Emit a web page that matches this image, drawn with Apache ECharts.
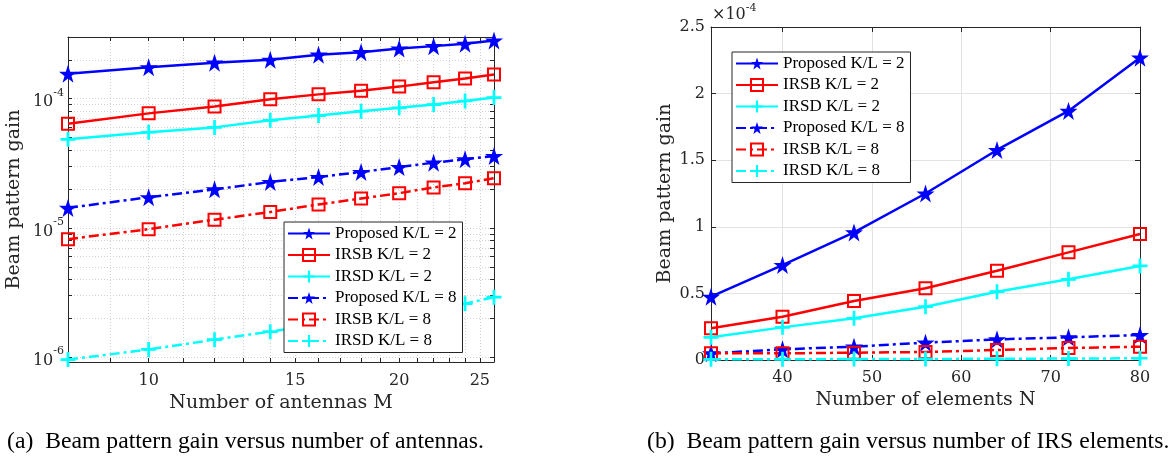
<!DOCTYPE html>
<html><head><meta charset="utf-8">
<script src="https://cdn.jsdelivr.net/npm/echarts@6/dist/echarts.min.js"></script>
<style>html,body{margin:0;padding:0;background:#fff}#c{width:1172px;height:462px}</style>
</head><body><div id="c"></div>
<script>
// ---------- data: (a) gain vs number of antennas M ----------
const antennasM      = [8, 10, 12, 14, 16, 18, 20, 22, 24, 26];
const proposedKL2_M  = [1.56e-4, 1.75e-4, 1.90e-4, 2.00e-4, 2.19e-4, 2.29e-4, 2.44e-4, 2.55e-4, 2.66e-4, 2.82e-4];
const irsbKL2_M      = [6.4e-5, 7.7e-5, 8.7e-5, 9.9e-5, 1.08e-4, 1.15e-4, 1.24e-4, 1.34e-4, 1.43e-4, 1.54e-4];
const irsdKL2_M      = [4.85e-5, 5.5e-5, 6.0e-5, 6.8e-5, 7.4e-5, 8.0e-5, 8.5e-5, 9.0e-5, 9.6e-5, 1.02e-4];
const proposedKL8_M  = [1.43e-5, 1.73e-5, 1.99e-5, 2.27e-5, 2.48e-5, 2.71e-5, 2.96e-5, 3.2e-5, 3.4e-5, 3.6e-5];
const irsbKL8_M      = [8.2e-6, 9.8e-6, 1.16e-5, 1.33e-5, 1.52e-5, 1.69e-5, 1.86e-5, 2.06e-5, 2.22e-5, 2.43e-5];
const irsdKL8_M      = [9.6e-7, 1.15e-6, 1.37e-6, 1.58e-6, 1.8e-6, 2.0e-6, 2.2e-6, 2.4e-6, 2.6e-6, 2.92e-6];
const xTickLabelsM   = [10, 15, 20, 25];
const yTickLabelsM   = [1e-6, 1e-5, 1e-4];

// ---------- data: (b) gain vs number of IRS elements N ----------
const elementsN      = [32, 40, 48, 56, 64, 72, 80];
const proposedKL2_N  = [4.75e-5, 7.13e-5, 9.58e-5, 1.25e-4, 1.577e-4, 1.87e-4, 2.27e-4];
const irsbKL2_N      = [2.38e-5, 3.25e-5, 4.43e-5, 5.38e-5, 6.7e-5, 8.08e-5, 9.46e-5];
const irsdKL2_N      = [1.7e-5, 2.45e-5, 3.13e-5, 4.0e-5, 5.13e-5, 6.06e-5, 7.06e-5];
const proposedKL8_N  = [5.0e-6, 8.0e-6, 1.0e-5, 1.3e-5, 1.55e-5, 1.7e-5, 1.88e-5];
const irsbKL8_N      = [5.0e-6, 5.0e-6, 5.5e-6, 6.0e-6, 7.5e-6, 9.0e-6, 1.0e-5];
const irsdKL8_N      = [5e-7, 6e-7, 7e-7, 8e-7, 9e-7, 1.1e-6, 1.3e-6];
const xTickLabelsN   = [40, 50, 60, 70, 80];

const seriesNames = ['Proposed K/L = 2', 'IRSB K/L = 2', 'IRSD K/L = 2',
                     'Proposed K/L = 8', 'IRSB K/L = 8', 'IRSD K/L = 8'];

// ---------- styles ----------
const BLUE = '#0000ff', RED = '#ff0000', CYAN = '#00ffff', INK = '#262626';
const STAR = 'path://M50,0 L61.8,35.1 L98.6,35.1 L68.8,56.8 L79.4,91.1 L50,70 L20.6,91.1 L31.2,56.8 L1.4,35.1 L38.2,35.1 Z';
const PLUS = 'path://M0,4.1 L4.1,4.1 L4.1,0 L5.9,0 L5.9,4.1 L10,4.1 L10,5.9 L5.9,5.9 L5.9,10 L4.1,10 L4.1,5.9 L0,5.9 Z';
const DASHDOT = [10, 4, 3, 4];
const styles = [
  {color: BLUE, symbol: STAR, size: 18, dash: 'solid', fill: BLUE},
  {color: RED,  symbol: 'rect', size: 12, dash: 'solid', fill: 'rgba(255,255,255,0)'},
  {color: CYAN, symbol: PLUS, size: 15, dash: 'solid', fill: CYAN},
  {color: BLUE, symbol: STAR, size: 18, dash: DASHDOT, fill: BLUE},
  {color: RED,  symbol: 'rect', size: 12, dash: DASHDOT, fill: 'rgba(255,255,255,0)'},
  {color: CYAN, symbol: PLUS, size: 15, dash: DASHDOT, fill: CYAN}
];
const SERIF = 'DejaVu Serif';
const TIMES = 'Liberation Serif';

function mkSeries(i, xs, ys, axisIdx) {
  const s = styles[i];
  return {
    type: 'line', name: seriesNames[i],
    xAxisIndex: axisIdx, yAxisIndex: axisIdx,
    data: xs.map((x, k) => [x, ys[k]]),
    symbol: s.symbol, symbolSize: s.size, showSymbol: true,
    lineStyle: {color: s.color, width: 2.5, type: s.dash},
    itemStyle: {color: s.fill, borderColor: s.color, borderWidth: s.symbol === 'rect' ? 2 : 0},
    emphasis: {disabled: true},
    z: 2
  };
}

// tick positions for the log axes (minor ticks at every integer / every mantissa)
const minorXM = [];
for (let v = 8; v <= 26; v++) minorXM.push(v);
const minorYM = [];
for (let e = -7; e <= -4; e++) for (let m = 1; m <= 9; m++) {
  const v = +(m * Math.pow(10, e)).toPrecision(3);
  if (v >= 9.2e-7 && v <= 3e-4) minorYM.push(v);
}

const tickLabel = {fontFamily: SERIF, fontSize: 16, color: INK};
const nameStyle = {fontFamily: SERIF, fontSize: 19, color: INK};
const axLine = {show: true, onZero: false, lineStyle: {color: INK, width: 1}};
const legendBase = {data: seriesNames, orient: 'vertical', itemWidth: 42, itemHeight: 15, itemGap: 4.5,
  padding: [3, 6, 3, 3], backgroundColor: '#fff', borderColor: INK, borderWidth: 1, borderRadius: 0,
  textStyle: {fontFamily: TIMES, fontSize: 17, color: '#000'}, selectedMode: false, z: 20};

const chart = echarts.init(document.getElementById('c'));
chart.setOption({
  animation: false,
  backgroundColor: '#fff',
  title: [
    {text: '(a)  Beam pattern gain versus number of antennas.', left: 7, top: 430, padding: 0,
     textStyle: {fontFamily: TIMES, fontSize: 23.7, fontWeight: 'normal', color: '#000'}},
    {text: '(b)  Beam pattern gain versus number of IRS elements.', left: 647, top: 430, padding: 0,
     textStyle: {fontFamily: TIMES, fontSize: 23.7, fontWeight: 'normal', color: '#000'}}
  ],
  graphic: [{
    type: 'text', left: 712, top: 3,
    style: {text: '{a|×10}{b|-4}', rich: {
      a: {fontFamily: SERIF, fontSize: 16, fill: INK, padding: [4, 0, 0, 0]},
      b: {fontFamily: SERIF, fontSize: 11, fill: INK, verticalAlign: 'top'}
    }}
  }],
  legend: [
    Object.assign({}, legendBase, {left: 284, top: 222}),
    Object.assign({}, legendBase, {left: 732, top: 52})
  ],
  grid: [
    {left: 68, top: 37, width: 426, height: 325},
    {left: 711, top: 27, width: 429, height: 333}
  ],
  xAxis: [
    {gridIndex: 0, type: 'log', min: 8, max: 26, axisLine: axLine,
     axisTick: {inside: true, length: 4, customValues: minorXM, lineStyle: {color: INK}},
     axisLabel: {customValues: xTickLabelsM, margin: 11, ...tickLabel},
     splitLine: {show: true, lineStyle: {color: '#d0d0d0', type: [1, 2], width: 1}},
     name: 'Number of antennas M', nameLocation: 'middle', nameGap: 30, nameTextStyle: nameStyle},
    {gridIndex: 1, type: 'value', min: 32, max: 80, axisLine: axLine,
     axisTick: {inside: true, length: 5, customValues: xTickLabelsN, lineStyle: {color: INK}},
     axisLabel: {customValues: xTickLabelsN, margin: 10, ...tickLabel},
     splitLine: {show: true, lineStyle: {color: '#e3e3e3', width: 1}},
     name: 'Number of elements N', nameLocation: 'middle', nameGap: 31, nameTextStyle: nameStyle},
    {gridIndex: 0, type: 'log', min: 8, max: 26, position: 'top', axisLine: axLine,
     axisTick: {inside: true, length: 4, customValues: minorXM, lineStyle: {color: INK}},
     axisLabel: {show: false},
     splitLine: {show: false}},
    {gridIndex: 1, type: 'value', min: 32, max: 80, position: 'top', axisLine: axLine,
     axisTick: {inside: true, length: 5, customValues: xTickLabelsN, lineStyle: {color: INK}},
     axisLabel: {show: false}, splitLine: {show: false}}
  ],
  yAxis: [
    {gridIndex: 0, type: 'log', min: 9.2e-7, max: 3e-4, axisLine: axLine,
     axisTick: {inside: true, length: 4, customValues: minorYM, lineStyle: {color: INK}},
     axisLabel: {customValues: yTickLabelsM, margin: 4,
       formatter: v => '{b|10}{s|' + Math.round(Math.log10(v)) + '}',
       rich: {b: {fontFamily: SERIF, fontSize: 16, color: INK, padding: [7, 0, 0, 0]},
              s: {fontFamily: SERIF, fontSize: 11, color: INK, verticalAlign: 'top'}}},
     splitLine: {show: true, lineStyle: {color: '#d0d0d0', type: [1, 2], width: 1}},
     name: 'Beam pattern gain', nameLocation: 'middle', nameGap: 44, nameTextStyle: nameStyle},
    {gridIndex: 1, type: 'value', min: 0, max: 2.5e-4, interval: 5e-5, axisLine: axLine,
     axisTick: {inside: true, length: 5, lineStyle: {color: INK}},
     axisLabel: {margin: 6, ...tickLabel, formatter: v => String(+(v * 1e4).toFixed(2))},
     splitLine: {show: true, lineStyle: {color: '#e3e3e3', width: 1}},
     name: 'Beam pattern gain', nameLocation: 'middle', nameGap: 36, nameTextStyle: nameStyle},
    {gridIndex: 0, type: 'log', min: 9.2e-7, max: 3e-4, position: 'right', axisLine: axLine,
     axisTick: {inside: true, length: 4, customValues: minorYM, lineStyle: {color: INK}},
     axisLabel: {show: false}, splitLine: {show: false}},
    {gridIndex: 1, type: 'value', min: 0, max: 2.5e-4, interval: 5e-5, position: 'right', axisLine: axLine,
     axisTick: {inside: true, length: 5, lineStyle: {color: INK}},
     axisLabel: {show: false}, splitLine: {show: false}}
  ],
  series: [
    mkSeries(0, antennasM, proposedKL2_M, 0),
    mkSeries(1, antennasM, irsbKL2_M, 0),
    mkSeries(2, antennasM, irsdKL2_M, 0),
    mkSeries(3, antennasM, proposedKL8_M, 0),
    mkSeries(4, antennasM, irsbKL8_M, 0),
    mkSeries(5, antennasM, irsdKL8_M, 0),
    mkSeries(0, elementsN, proposedKL2_N, 1),
    mkSeries(1, elementsN, irsbKL2_N, 1),
    mkSeries(2, elementsN, irsdKL2_N, 1),
    mkSeries(3, elementsN, proposedKL8_N, 1),
    mkSeries(4, elementsN, irsbKL8_N, 1),
    mkSeries(5, elementsN, irsdKL8_N, 1)
  ]
});
</script></body></html>
